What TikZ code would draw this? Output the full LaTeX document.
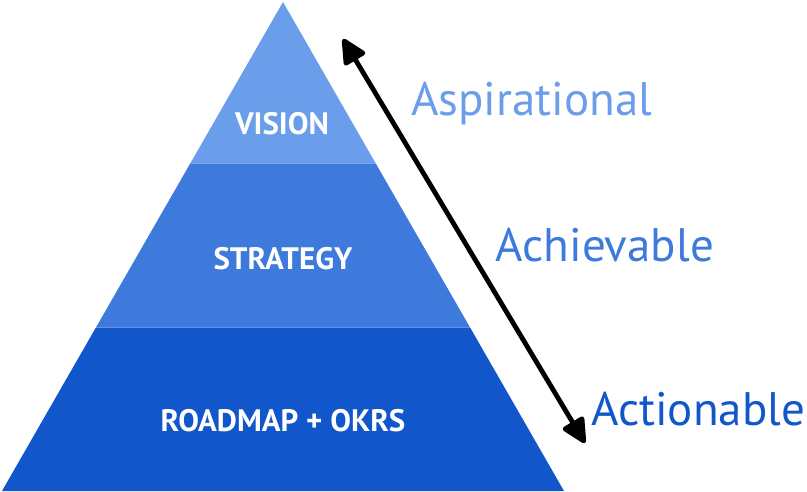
\documentclass[tikz,border=0pt]{standalone}
\usepackage{fontspec}
\setmainfont{PT Sans}
\usetikzlibrary{arrows.meta}
\definecolor{cTop}{HTML}{6A9EEA}
\definecolor{cMid}{HTML}{3D7ADB}
\definecolor{cBot}{HTML}{1256CC}
\tikzset{
  layerlabel/.style={text=white, font=\bfseries\fontsize{31}{33}\selectfont, anchor=base, inner sep=0pt},
  sidelabel/.style={font=\fontsize{47}{50}\selectfont, anchor=base west, inner sep=0pt},
  bigarrow/.style={line width=4.8pt, {Triangle[length=28pt,width=26pt,round]}-{Triangle[length=28pt,width=26pt,round]}}
}
\begin{document}
\begin{tikzpicture}[x=1pt,y=-1pt]
\useasboundingbox (0,0) rectangle (807,492);
% pyramid geometry
\coordinate (apex) at (283,2);
\coordinate (bl) at (2,491);
\coordinate (br) at (564,491);
\coordinate (l1) at (190.5,163);
\coordinate (r1) at (375.5,163);
\coordinate (l2) at (96.2,327);
\coordinate (r2) at (469.8,327);
\fill[cTop] (apex) -- (r1) -- (l1) -- cycle;
\fill[cMid] (l1) -- (r1) -- (r2) -- (l2) -- cycle;
\fill[cBot] (l2) -- (r2) -- (br) -- (bl) -- cycle;
\draw[white, opacity=0.35, line width=0.8pt] (l1) -- (r1);
\draw[white, opacity=0.35, line width=0.8pt] (l2) -- (r2);
% layer labels
\node[layerlabel] (vision) at (282,135) {VISION};
\node[layerlabel] (strategy) at (283,269.5) {STRATEGY};
\node[layerlabel] (roadmap) at (283,431) {ROADMAP + OKRS};
% side labels
\node[sidelabel, text=cTop] (asp) at (411,115.7) {Aspirational};
\node[sidelabel, text=cMid] (ach) at (495.5,261.7) {Achievable};
\node[sidelabel, text=cBot] (act) at (591,425) {Actionable};
% arrow
\coordinate (atop) at (343,39);
\coordinate (abot) at (585,443);
\draw[bigarrow] (atop) -- (abot);
\end{tikzpicture}
\end{document}
